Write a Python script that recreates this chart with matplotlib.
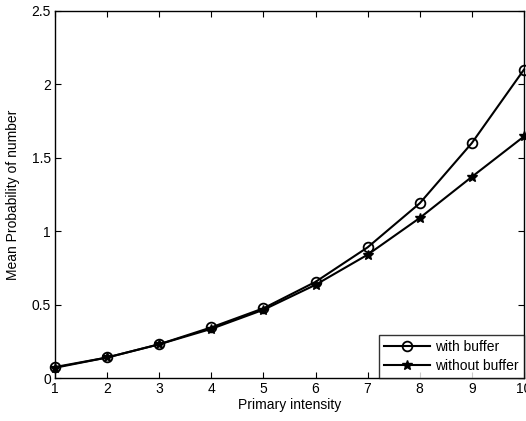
import numpy as np
import matplotlib
matplotlib.use("Agg")
import matplotlib.pyplot as plt

intensity = [1, 2, 3, 4, 5, 6, 7, 8, 9, 10]
with_buffer = [0.075, 0.14, 0.23, 0.345, 0.475, 0.655, 0.89, 1.19, 1.60, 2.10]
without_buffer = [0.07, 0.14, 0.23, 0.335, 0.465, 0.635, 0.84, 1.09, 1.37, 1.645]

plt.rcParams['font.family'] = ['Liberation Sans', 'DejaVu Sans']

fig = plt.figure(figsize=(5.26, 4.21), dpi=100)
ax = fig.add_axes([0.1046, 0.102, 0.8914, 0.872])

ax.plot(intensity, with_buffer, color='black', lw=1.5, marker='o',
        markersize=7, markerfacecolor='none', markeredgewidth=1.3,
        label='with buffer', clip_on=False)
ax.plot(intensity, without_buffer, color='black', lw=1.5, marker='*',
        markersize=7, label='without buffer', clip_on=False)

ax.set_xlim(1, 10)
ax.set_ylim(0, 2.5)
ax.set_xticks(intensity)
ax.set_yticks([0, 0.5, 1, 1.5, 2, 2.5])
ax.set_yticklabels(['0', '0.5', '1', '1.5', '2', '2.5'])
ax.tick_params(direction='in', top=True, right=True, labelsize=10, length=4,
               pad=3)
for s in ax.spines.values():
    s.set_linewidth(1.0)

ax.set_xlabel('Primary intensity', fontsize=10, labelpad=1)
ax.set_ylabel('Mean Probability of number', fontsize=10, labelpad=8)

leg = ax.legend(loc='lower right', fontsize=10, frameon=True, fancybox=False,
                edgecolor='black', borderaxespad=0, handlelength=3.3,
                borderpad=0.35, labelspacing=0.35, handletextpad=0.4)
leg.get_frame().set_linewidth(1.0)

fig.savefig('out.png', dpi=100)
